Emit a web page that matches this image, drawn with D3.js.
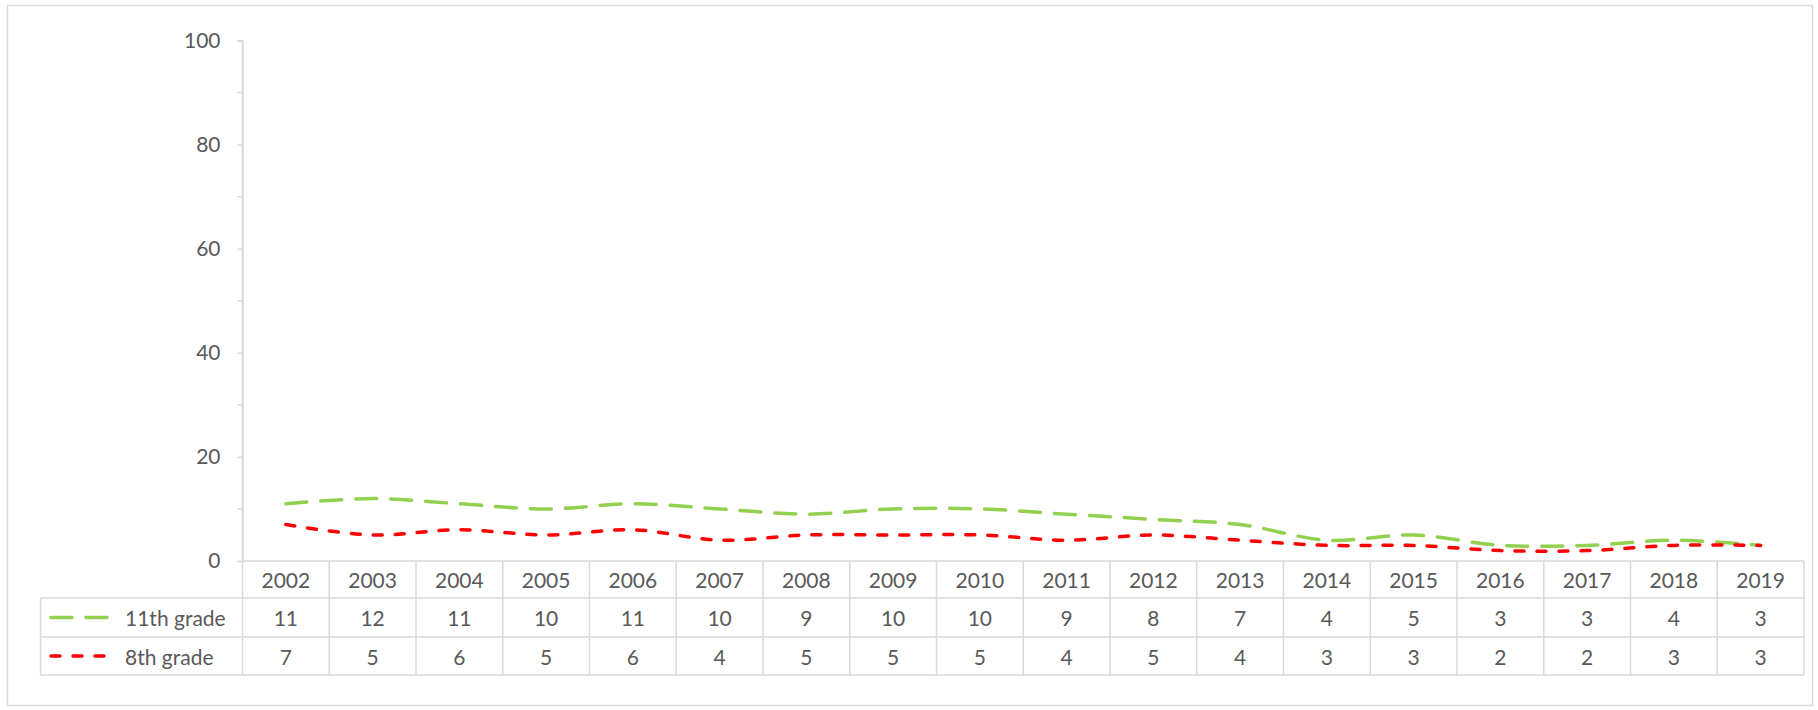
<!DOCTYPE html>
<html>
<head>
<meta charset="utf-8">
<script src="https://cdn.jsdelivr.net/npm/d3@7"></script>
<style>
  html, body { margin: 0; padding: 0; background: #fff; }
  svg { display: block; }
  text { font-family: Lato, "Open Sans", sans-serif; fill: #595959; }
</style>
</head>
<body>
<svg id="chart" width="1818" height="710"></svg>
<script>
// Survey years and percentages by grade
const years = [2002, 2003, 2004, 2005, 2006, 2007, 2008, 2009, 2010, 2011, 2012, 2013, 2014, 2015, 2016, 2017, 2018, 2019];
const grade11 = [11, 12, 11, 10, 11, 10, 9, 10, 10, 9, 8, 7, 4, 5, 3, 3, 4, 3];
const grade8 = [7, 5, 6, 5, 6, 4, 5, 5, 5, 4, 5, 4, 3, 3, 2, 2, 3, 3];
const yTicks = [0, 20, 40, 60, 80, 100];
const seriesNames = ["11th grade", "8th grade"];

const series = [
  { name: seriesNames[0], values: grade11, color: "#92D050", dash: "21,14" },
  { name: seriesNames[1], values: grade8, color: "#FF0000", dash: "9,13" }
];

const svg = d3.select("#chart");
const gridColor = "#D9D9D9";
const fontSize = 21;

// outer frame
svg.append("rect")
  .attr("x", 7.5).attr("y", 5.5).attr("width", 1805).attr("height", 700)
  .attr("fill", "none").attr("stroke", gridColor).attr("stroke-width", 1.5);

const plotLeft = 242.5, plotRight = 1804;
const yTop = 40.5, yBottom = 561;
const rowBottoms = [598, 637, 675];
const tableLeft = 40.5;

const x = d3.scaleBand().domain(years).range([plotLeft, plotRight]);
const y = d3.scaleLinear().domain([0, 100]).range([yBottom, yTop]);

// y axis with major and minor ticks
const yAxis = d3.axisLeft(y).tickValues(yTicks).tickSize(5).tickPadding(17);
const gy = svg.append("g").attr("transform", `translate(${plotLeft},0)`).call(yAxis);
gy.select(".domain").attr("stroke", gridColor).attr("stroke-width", 1.5);
gy.selectAll(".tick line").attr("stroke", gridColor).attr("stroke-width", 1.5);
gy.selectAll(".tick text").attr("font-size", fontSize).attr("fill", "#595959")
  .style("font-family", "Lato, 'Open Sans', sans-serif");
const minor = d3.range(10, 100, 20);
svg.append("g").selectAll("line").data(minor).join("line")
  .attr("x1", plotLeft - 5).attr("x2", plotLeft)
  .attr("y1", d => y(d)).attr("y2", d => y(d))
  .attr("stroke", gridColor).attr("stroke-width", 1.5);

// series lines
const line = d3.line()
  .x((d, i) => x(years[i]) + x.bandwidth() / 2)
  .y(d => y(d))
  .curve(d3.curveCatmullRom.alpha(0.5));

svg.append("g").selectAll("path").data(series).join("path")
  .attr("d", d => line(d.values))
  .attr("fill", "none")
  .attr("stroke", d => d.color)
  .attr("stroke-width", 3.5)
  .attr("stroke-dasharray", d => d.dash)
  .attr("stroke-linecap", "round");

// data table grid
const table = svg.append("g");
const hLines = [
  { x1: plotLeft, x2: plotRight, y: yBottom },
  { x1: tableLeft, x2: plotRight, y: rowBottoms[0] },
  { x1: tableLeft, x2: plotRight, y: rowBottoms[1] },
  { x1: tableLeft, x2: plotRight, y: rowBottoms[2] }
];
table.selectAll("line.h").data(hLines).join("line").attr("class", "h")
  .attr("x1", d => d.x1).attr("x2", d => d.x2)
  .attr("y1", d => d.y).attr("y2", d => d.y)
  .attr("stroke", gridColor).attr("stroke-width", 1.5);

const colEdges = years.map(yr => x(yr)).concat([plotRight]);
table.selectAll("line.v").data(colEdges).join("line").attr("class", "v")
  .attr("x1", d => d).attr("x2", d => d)
  .attr("y1", (d, i) => i === 0 ? yTop : yBottom).attr("y2", rowBottoms[2])
  .attr("stroke", gridColor).attr("stroke-width", 1.5);
table.append("line")
  .attr("x1", tableLeft).attr("x2", tableLeft)
  .attr("y1", rowBottoms[0]).attr("y2", rowBottoms[2])
  .attr("stroke", gridColor).attr("stroke-width", 1.5);

// header row: years
table.selectAll("text.yr").data(years).join("text").attr("class", "yr")
  .attr("x", d => x(d) + x.bandwidth() / 2)
  .attr("y", (yBottom + rowBottoms[0]) / 2)
  .attr("text-anchor", "middle").attr("dominant-baseline", "central")
  .attr("font-size", fontSize)
  .text(d => d);

// value rows with legend keys
series.forEach((s, r) => {
  const top = rowBottoms[r], bottom = rowBottoms[r + 1];
  const mid = (top + bottom) / 2;
  table.append("g").selectAll("text").data(s.values).join("text")
    .attr("x", (d, i) => x(years[i]) + x.bandwidth() / 2)
    .attr("y", mid)
    .attr("text-anchor", "middle").attr("dominant-baseline", "central")
    .attr("font-size", fontSize)
    .text(d => d);
  table.append("line")
    .attr("x1", 51).attr("x2", 110).attr("y1", mid).attr("y2", mid)
    .attr("stroke", s.color).attr("stroke-width", 3.5)
    .attr("stroke-dasharray", s.dash).attr("stroke-linecap", "round");
  table.append("text")
    .attr("x", 125).attr("y", mid)
    .attr("dominant-baseline", "central")
    .attr("font-size", fontSize)
    .text(s.name);
});
</script>
</body>
</html>
